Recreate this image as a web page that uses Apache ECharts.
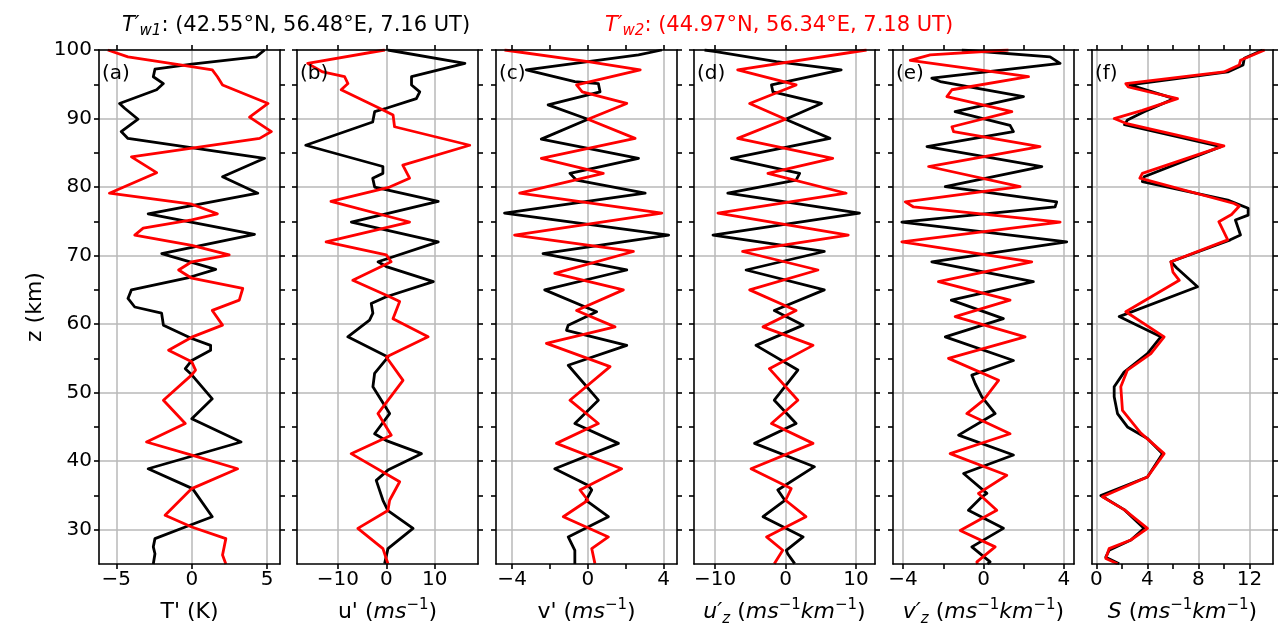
<!DOCTYPE html>
<html><head><meta charset="utf-8">
<script src="https://cdn.jsdelivr.net/npm/echarts@6/dist/echarts.min.js"></script>
<style>html,body{margin:0;padding:0;background:#fff}#c{width:1285px;height:635px}</style>
</head><body><div id="c"></div>
<script>
// ---------------- DATA ([value, altitude km]) ----------------
const aBlack = [[4.83,100],[4.27,99.0],[0.0,97.95],[-2.44,97.2],[-2.55,96.1],[-1.88,95.1],[-2.33,94.2],[-4.79,92.2],[-4.45,91.5],[-3.56,89.9],[-4.68,88.1],[-4.23,87.1],[4.83,84.2],[2.04,81.5],[4.38,79.1],[-2.89,76.1],[4.16,73.1],[-1.99,70.3],[1.59,68.0],[-0.2,66.8],[-4.0,65.0],[-4.23,63.75],[-3.78,62.5],[-2.0,61.6],[-1.88,59.85],[0.0,57.9],[1.25,56.9],[1.25,56.2],[0.0,54.7],[-0.43,53.5],[0.0,52.6],[1.36,49.1],[0.0,46.2],[3.27,42.8],[-2.89,38.9],[0.05,36.0],[1.36,31.9],[-0.43,30.4],[-2.44,28.7],[-2.55,27.5],[-2.44,26.5],[-2.55,25]];
const aRed = [[-5.57,100],[-4.23,99.0],[-0.65,97.8],[1.36,97.1],[1.7,96.1],[2.04,94.9],[5.06,92.2],[3.83,90.2],[5.28,88.1],[4.5,87.1],[-4.0,84.4],[-2.33,82.1],[-5.46,79.1],[0.0,77.5],[1.7,76.1],[0.0,75.2],[-3.22,74.0],[-3.78,73.0],[0.0,71.5],[2.48,70.1],[0.0,69.1],[-0.87,67.9],[0.0,66.7],[3.38,65.2],[3.15,63.5],[1.36,62.0],[2.04,59.85],[0.0,58.1],[-1.54,56.2],[0.0,54.5],[0.25,53.3],[0.0,52.6],[-1.88,48.9],[-0.43,45.5],[-3.0,42.8],[0.0,40.9],[3.04,38.9],[0.0,36.0],[-1.77,32.1],[0.0,30.4],[2.26,28.7],[2.04,26.3],[2.26,25]];
const bBlack = [[0.3,100],[16.2,98.05],[5.2,96.1],[5.2,94.9],[6.9,93.9],[6.2,92.9],[0.0,91.5],[-2.4,91.0],[-2.8,89.5],[-16.6,86.1],[-0.7,83.0],[-0.7,82.0],[-2.8,81.3],[-2.4,80.0],[10.7,77.9],[-7.2,74.9],[10.7,72.0],[-1.7,69.1],[0.0,68.4],[9.7,66.2],[0.0,64.0],[-3.1,63.0],[-2.76,61.6],[-3.45,60.6],[-7.93,58.15],[0.34,55.2],[-2.41,52.8],[-2.76,50.85],[0.69,46.95],[-2.41,44.0],[0.0,43.0],[7.24,41.1],[0.34,38.7],[-2.07,37.2],[-0.69,34.3],[0.34,32.8],[5.52,30.2],[0.34,27.25],[-0.34,25.05]];
const bRed = [[-0.3,100],[-16.2,98.05],[-13.1,96.8],[-8.6,96.1],[-7.9,95.1],[-9.3,94.2],[-1.4,91.5],[1.4,90.5],[1.7,88.8],[17.2,86.1],[3.4,83.2],[4.8,81.3],[0.7,80.0],[-11.4,77.9],[4.8,74.9],[-12.4,72.0],[0.0,70.1],[1.0,69.1],[-6.9,66.4],[0.7,64.0],[2.76,63.3],[1.38,60.8],[8.62,58.15],[0.0,55.2],[3.45,51.8],[-1.72,46.95],[1.03,43.8],[-7.24,41.1],[2.76,37.0],[0.69,34.3],[0.34,32.8],[-5.86,30.2],[-0.69,27.25],[0.34,25.05]];
const cBlack = [[3.9,100],[2.67,99.3],[-3.25,97.1],[-0.69,95.4],[0.55,95.1],[0.64,93.9],[-2.1,92.0],[0.0,89.9],[-2.46,87.0],[2.67,84.2],[-0.95,82.0],[-0.6,81.0],[3.02,79.1],[-4.4,76.2],[4.26,73.0],[-2.37,70.3],[2.05,67.9],[-2.28,65.0],[0.46,61.8],[-1.04,59.85],[-1.13,59.1],[2.05,56.9],[-1.04,54.0],[0.55,48.9],[-0.69,45.5],[1.61,42.6],[-1.75,38.9],[0.0,36.5],[0.2,35.8],[-0.1,34.3],[1.08,31.9],[-1.04,28.95],[-0.69,27.0],[-0.69,25.0]];
const cRed = [[-4.4,100],[0.0,98.3],[2.76,97.1],[-0.6,94.9],[-0.3,93.9],[2.05,92.2],[0.0,89.9],[2.49,87.1],[-2.46,84.2],[0.81,82.0],[-3.6,79.1],[3.9,76.2],[-3.87,73.0],[2.4,70.6],[-1.75,67.4],[1.87,65.0],[-0.6,62.0],[1.43,59.6],[-2.19,57.2],[1.17,53.8],[-0.95,48.9],[0.55,45.5],[-1.66,42.6],[1.78,38.9],[-0.42,35.8],[0.0,34.3],[-1.3,31.9],[1.08,28.95],[0.2,27.25],[0.37,25.05]];
const dBlack = [[-11.5,100],[-9.9,99.75],[-1.3,98.3],[7.9,97.1],[-2.0,94.9],[-1.8,93.9],[5.1,92.2],[0.0,89.9],[6.3,87.1],[-7.7,84.2],[2.0,82.0],[1.5,81.0],[-8.2,79.1],[10.5,76.2],[-10.3,73.0],[5.5,70.6],[-5.6,67.9],[5.5,65.0],[-1.6,62.0],[2.5,59.85],[-4.2,56.9],[1.75,53.3],[-1.6,48.9],[1.5,45.5],[-4.4,42.6],[4.1,39.2],[-1.1,35.8],[-0.1,34.3],[-3.2,31.9],[2.5,28.95],[0.1,27.0],[0.3,26.5],[1.3,25.05]];
const dRed = [[11.5,100],[-6.8,97.1],[1.5,94.9],[-5.1,92.2],[0.0,89.9],[-6.8,87.1],[6.7,84.2],[-2.5,82.0],[8.6,79.1],[-9.6,76.2],[8.9,73.0],[-6.1,70.6],[4.6,67.9],[-5.1,65.0],[1.5,62.0],[-3.2,59.6],[3.9,56.9],[-2.3,53.5],[1.75,48.9],[-2.0,45.5],[3.9,42.6],[-4.9,38.9],[0.8,36.0],[0.0,34.3],[2.9,31.9],[-2.7,28.95],[-0.4,27.0],[-1.6,25.05]];
const eBlack = [[-1.08,100],[3.31,99.0],[3.81,98.05],[-2.57,95.9],[-2.15,95.4],[1.99,93.2],[-1.41,91.0],[1.32,89.0],[1.49,88.1],[-2.81,85.9],[2.9,83.0],[-1.9,80.05],[3.64,77.85],[3.56,77.1],[-4.06,74.9],[4.14,72.0],[-2.57,69.1],[2.48,66.2],[-1.6,63.5],[0.99,60.8],[-1.9,58.15],[1.49,54.7],[-0.58,52.55],[-0.41,51.3],[-0.08,49.4],[0.58,46.95],[-1.24,43.8],[1.49,40.9],[-0.99,38.2],[0.17,35.3],[-0.08,34.8],[-0.75,32.85],[0.99,30.2],[-0.58,27.5],[0.33,25.3],[0.2,25]];
const eRed = [[1.24,100],[-2.65,99.3],[-3.64,98.5],[2.24,96.1],[-1.57,94.2],[-1.82,93.2],[1.41,91.0],[-1.57,88.8],[-1.49,88.1],[2.81,85.9],[-2.73,83.0],[1.82,80.05],[-3.89,77.85],[-3.48,77.1],[3.81,74.9],[-4.06,72.0],[2.4,69.1],[-2.24,66.2],[1.32,63.5],[-1.41,61.1],[2.07,58.15],[-1.74,55.0],[0.75,51.8],[0.0,48.9],[-0.83,46.95],[1.32,44.0],[-1.66,41.1],[1.16,37.95],[-0.25,35.3],[0.66,32.85],[-1.16,29.9],[0.58,27.5],[-0.33,25.3],[-0.3,25]];
const fBlack = [[13.04,100],[11.6,98.8],[11.5,97.8],[10.3,96.8],[2.6,94.9],[6.1,92.9],[3.74,91.0],[2.43,89.8],[2.2,89.1],[9.76,85.9],[3.74,81.5],[3.6,80.8],[10.3,78.1],[11.9,76.9],[11.9,75.9],[10.9,75.2],[11.3,73.0],[10.5,72.3],[5.84,69.1],[6.3,68.2],[7.93,65.45],[1.78,61.1],[5.05,58.15],[4.0,55.7],[2.17,53.0],[1.39,50.85],[1.39,49.4],[1.65,46.95],[2.43,45.0],[4.0,43.3],[5.18,41.1],[4.0,37.7],[0.34,35.0],[2.2,32.9],[3.74,30.2],[2.7,28.5],[0.99,27.0],[0.73,26.0],[1.78,25.05]];
const fRed = [[13.2,100],[11.3,98.5],[11.2,97.8],[10.0,96.8],[2.3,95.1],[2.5,94.6],[6.36,92.9],[3.6,91.2],[1.39,90.0],[2.3,89.3],[10.0,86.0],[3.6,82.0],[3.4,81.3],[10.8,77.6],[11.2,77.2],[10.6,76.0],[9.6,74.95],[10.3,72.3],[5.84,69.1],[6.0,67.6],[6.5,66.4],[2.3,61.8],[5.31,58.15],[4.27,55.7],[2.43,53.3],[1.91,50.85],[2.04,47.4],[3.48,44.1],[5.31,41.1],[4.0,37.7],[0.47,34.8],[2.2,32.9],[4.0,30.2],[2.7,28.5],[0.99,27.25],[0.73,25.8],[1.65,25.05]];

// tick values / labels
const altLabels = [30,40,50,60,70,80,90,100];
const altTicks = [30,35,40,45,50,55,60,65,70,75,80,85,90,95,100];
const aTicks = [-5,0,5], aLabels = [-5,0,5];
const bTicks = [-10,0,10], bLabels = [-10,0,10];
const cTicks = [-4,-2,0,2,4], cLabels = [-4,0,4];
const dTicks = [-10,0,10], dLabels = [-10,0,10];
const eTicks = [-4,-2,0,2,4], eLabels = [-4,0,4];
const fTicks = [0,2,4,6,8,10,12], fLabels = [0,4,8,12];
const panelTags = ['(a)','(b)','(c)','(d)','(e)','(f)'];
const axisNames = [
  "T' (K)",
  "u' ({i|ms}{sup|−1})",
  "v' ({i|ms}{sup|−1})",
  "{i|u′}{sub|z} ({i|ms}{sup|−1}{i|km}{sup|−1})",
  "{i|v′}{sub|z} ({i|ms}{sup|−1}{i|km}{sup|−1})",
  "{i|S} ({i|ms}{sup|−1}{i|km}{sup|−1})"
];
const title1 = "{i|T′}{sub|w1}: (42.55°N, 56.48°E, 7.16 UT)";
const title2 = "{i|T′}{sub|w2}: (44.97°N, 56.34°E, 7.18 UT)";

// ---------------- LAYOUT ----------------
const FONT = 'DejaVu Sans';
const FS = 20;      // tick labels
const NFS = 22;     // axis names
const TFS = 21;     // titles
const lefts = [99, 297, 496, 694, 893, 1092];
const W = 181, TOP = 50, H = 514;
const ranges = [[-6.15,5.85],[-18.4,18.9],[-4.85,4.7],[-13,12.7],[-4.5,4.5],[-0.35,13.85]];

const panels = [
  {black:aBlack, red:aRed, ticks:aTicks, labels:aLabels},
  {black:bBlack, red:bRed, ticks:bTicks, labels:bLabels},
  {black:cBlack, red:cRed, ticks:cTicks, labels:cLabels},
  {black:dBlack, red:dRed, ticks:dTicks, labels:dLabels},
  {black:eBlack, red:eRed, ticks:eTicks, labels:eLabels},
  {black:fBlack, red:fRed, ticks:fTicks, labels:fLabels}
];

function rich(color, fs){
  const lh = Math.round(fs*1.3), small = Math.round(fs*0.7);
  return {
    i:{fontStyle:'italic', fontSize:fs, lineHeight:lh, color, fontFamily:FONT},
    sup:{fontSize:small, lineHeight:small, verticalAlign:'top', color, fontFamily:FONT},
    sub:{fontSize:small, lineHeight:small, verticalAlign:'bottom', fontStyle:'italic', color, fontFamily:FONT}
  };
}
const minus = v => String(v).replace('-', '−');
const spine = {show:true, onZero:false, lineStyle:{color:'#000', width:1.6}};
const tickStyle = {color:'#000', width:1.6};

const grid = [], xAxis = [], yAxis = [], series = [], graphic = [];
panels.forEach((p, i) => {
  grid.push({left:lefts[i], top:TOP, width:W, height:H, show:false});
  const [mn, mx] = ranges[i];
  xAxis.push({
    gridIndex:i, type:'value', min:mn, max:mx, position:'bottom', z:4,
    axisLine:spine,
    axisTick:{show:true, customValues:p.ticks, length:5, lineStyle:tickStyle},
    axisLabel:{customValues:p.labels, formatter:minus, fontSize:FS, fontFamily:FONT, color:'#000', margin:6},
    splitLine:{show:false},
    name:axisNames[i], nameLocation:'middle', nameGap:34,
    nameTextStyle:{fontSize:NFS, fontFamily:FONT, color:'#000', lineHeight:Math.round(NFS*1.3), rich:rich('#000', NFS)}
  });
  xAxis.push({
    gridIndex:i, type:'value', min:mn, max:mx, position:'top', z:4,
    axisLine:spine,
    axisTick:{show:true, customValues:p.ticks, length:5, lineStyle:tickStyle},
    axisLabel:{show:false}, splitLine:{show:false}
  });
  yAxis.push({
    gridIndex:i, type:'value', min:25, max:100, position:'left', z:4,
    axisLine:spine,
    axisTick:{show:true, customValues:altTicks, length:5, lineStyle:tickStyle},
    axisLabel:{show:i===0, customValues:altLabels, fontSize:FS, fontFamily:FONT, color:'#000', margin:7},
    splitLine:{show:false},
    name: i===0 ? 'z (km)' : '', nameLocation:'middle', nameGap:53, nameRotate:90,
    nameTextStyle:{fontSize:NFS, fontFamily:FONT, color:'#000'}
  });
  yAxis.push({
    gridIndex:i, type:'value', min:25, max:100, position:'right', z:4,
    axisLine:spine,
    axisTick:{show:true, customValues:altTicks, length:5, lineStyle:tickStyle},
    axisLabel:{show:false}, splitLine:{show:false}
  });
  // grid lines at the labelled ticks
  series.push({
    type:'line', xAxisIndex:2*i, yAxisIndex:2*i, data:[], silent:true,
    markLine:{silent:true, symbol:'none', z:1, animation:false, label:{show:false},
      lineStyle:{color:'#b8b8b8', type:'solid', width:1.5},
      emphasis:{disabled:true},
      data:[...p.labels.map(v=>({xAxis:v})), ...altLabels.map(v=>({yAxis:v}))]}
  });
  series.push({type:'line', xAxisIndex:2*i, yAxisIndex:2*i, data:p.black, symbol:'none', silent:true,
    lineStyle:{color:'#000', width:2.8, join:'round'}, z:2});
  series.push({type:'line', xAxisIndex:2*i, yAxisIndex:2*i, data:p.red, symbol:'none', silent:true,
    lineStyle:{color:'#ff0000', width:2.8, join:'round'}, z:3});
  graphic.push({type:'text', left:lefts[i]+3, top:64, z:10,
    style:{text:panelTags[i], font:FS+'px "DejaVu Sans"', fill:'#000'}});
});

const chart = echarts.init(document.getElementById('c'), null, {renderer:'canvas'});
chart.setOption({
  animation:false,
  backgroundColor:'#fff',
  title:[
    {text:title1, left:117, top:7, textStyle:{fontSize:TFS, fontWeight:'normal', fontFamily:FONT, color:'#000', lineHeight:Math.round(TFS*1.3), rich:rich('#000', TFS)}},
    {text:title2, left:600, top:7, textStyle:{fontSize:TFS, fontWeight:'normal', fontFamily:FONT, color:'#ff0000', lineHeight:Math.round(TFS*1.3), rich:rich('#ff0000', TFS)}}
  ],
  grid, xAxis, yAxis, series, graphic
});
</script></body></html>
